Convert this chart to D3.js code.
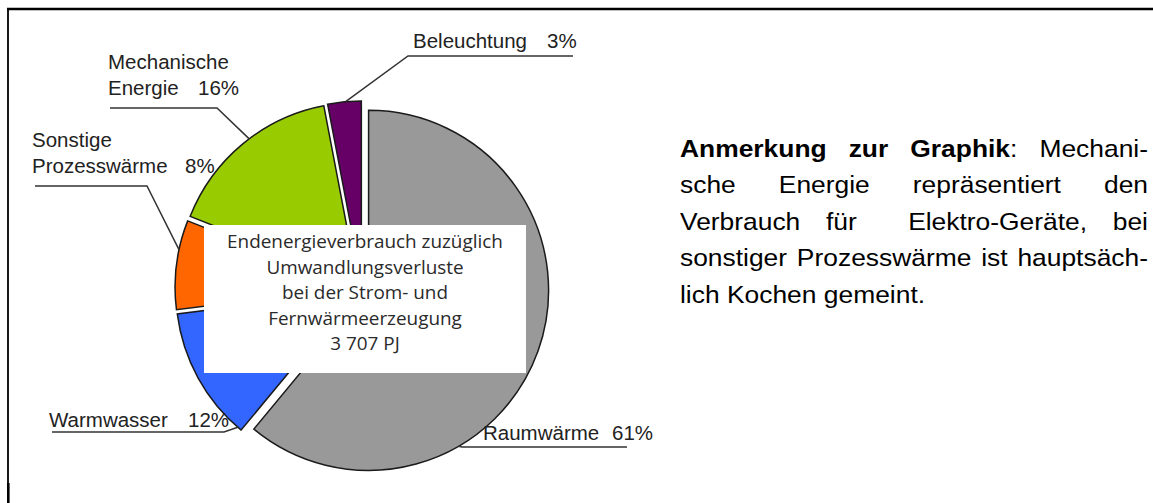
<!DOCTYPE html>
<html>
<head>
<meta charset="utf-8">
<script src="https://cdn.jsdelivr.net/npm/d3@7"></script>
<style>
  body { margin: 0; background: #fff; }
  svg { display: block; }
</style>
</head>
<body>
<svg id="chart" width="1153" height="503"></svg>
<script>
// data
const categories = ['Raumwärme', 'Warmwasser', 'Sonstige Prozesswärme', 'Mechanische Energie', 'Beleuchtung']
const shares = [61, 12, 8, 16, 3]
const sliceColors = ['#999999', '#3366ff', '#ff6600', '#99cc00', '#660066']
const boxLines = ['Endenergieverbrauch zuzüglich', 'Umwandlungsverluste', 'bei der Strom- und', 'Fernwärmeerzeugung', '3 707 PJ']
const noteLines = [
  'Anmerkung zur Graphik: Mechani-',
  'sche Energie repräsentiert den',
  'Verbrauch für  Elektro-Geräte, bei',
  'sonstiger Prozesswärme ist hauptsäch-',
  'lich Kochen gemeint.'
]
const noteBold = ['Anmerkung', 'zur', 'Graphik']

// label placement (layout only)
const labelLayout = [
  { x: 483, y: 440, pctX: 612, split: false, angle: 150, pts: [[462, 447], [627, 447]] },
  { x: 49, y: 427, pctX: 188, split: false, angle: 221, pts: [[224, 432], [52, 432]] },
  { x: 32, y: 147, pctX: 185, split: true, angle: 282, pts: [[147, 186], [35, 186]] },
  { x: 108, y: 69, pctX: 198, split: true, angle: 323, pts: [[217, 108], [110, 108]] },
  { x: 413, y: 48, pctX: 547, split: false, angle: 355, pts: [[408, 56], [573, 56]] }
]

const svg = d3.select('#chart')
const cx = 362
const cy = 288
const r = 180
const explode = 7

/** Draw the frame lines */
function drawFrame () {
  svg.append('line').attr('x1', 7).attr('x2', 1153).attr('y1', 9).attr('y2', 9)
    .attr('stroke', '#000').attr('stroke-width', 2.5)
  svg.append('line').attr('x1', 8).attr('x2', 8).attr('y1', 8).attr('y2', 483)
    .attr('stroke', '#000').attr('stroke-width', 1.8)
  svg.append('line').attr('x1', 8.3).attr('x2', 8.3).attr('y1', 483).attr('y2', 503)
    .attr('stroke', '#000').attr('stroke-width', 2.6)
}

/** offset of an exploded slice */
function sliceOffset (d) {
  const mid = (d.startAngle + d.endAngle) / 2
  return [explode * Math.sin(mid), -explode * Math.cos(mid)]
}

function drawPie () {
  const pie = d3.pie().sort(null).value(v => v)
  const arcs = pie(shares)
  const arc = d3.arc().innerRadius(0).outerRadius(r)
  const g = svg.append('g').attr('transform', `translate(${cx},${cy})`)
  g.selectAll('path.slice')
    .data(arcs)
    .enter().append('path').classed('slice', true)
    .attr('d', arc)
    .attr('transform', d => `translate(${sliceOffset(d)})`)
    .attr('fill', (d, i) => sliceColors[i])
    .attr('stroke', '#1a1a1a')
    .attr('stroke-width', 1.5)
    .attr('stroke-linejoin', 'miter')
  return arcs
}

function drawLabels (arcs) {
  const font = '"Liberation Sans", Arial, sans-serif'
  labelLayout.forEach((lay, i) => {
    const d = arcs[i]
    const [ox, oy] = sliceOffset(d)
    const a = lay.angle * Math.PI / 180
    const start = [cx + ox + r * Math.sin(a), cy + oy - r * Math.cos(a)]
    const line = d3.line()
    svg.append('path')
      .attr('d', line([start, ...lay.pts]))
      .attr('fill', 'none').attr('stroke', '#333').attr('stroke-width', 1.5)

    const words = categories[i].split(' ')
    const lines = lay.split ? words : [categories[i]]
    lines.forEach((t, k) => {
      svg.append('text').attr('x', lay.x).attr('y', lay.y + k * 26)
        .attr('font-family', font).attr('font-size', 20.5).attr('fill', '#222')
        .text(t)
    })
    svg.append('text').attr('x', lay.pctX).attr('y', lay.y + (lines.length - 1) * 26)
      .attr('font-family', font).attr('font-size', 20.5).attr('fill', '#222')
      .text(shares[i] + '%')
  })
}

function drawBox () {
  svg.append('rect').attr('x', 204).attr('y', 225).attr('width', 322).attr('height', 148)
    .attr('fill', '#fff')
  svg.selectAll('text.box')
    .data(boxLines)
    .enter().append('text').classed('box', true)
    .attr('x', 365)
    .attr('y', (t, i) => 248 + i * 25.5)
    .attr('text-anchor', 'middle')
    .attr('font-family', '"Open Sans", "Noto Sans", sans-serif')
    .attr('font-size', 18.9)
    .attr('fill', '#2a2a2a')
    .text(t => t)
}

/** Justified note text on the right */
function drawNote () {
  const sx = 1.1
  const width = (1148 - 680) / sx
  const g = svg.append('g').attr('transform', `translate(680,0) scale(${sx},1)`)
  noteLines.forEach((ln, li) => {
    const y = 157 + li * 36.5
    const words = ln.split(' ')
    const nodes = words.map(w => {
      const t = g.append('text').attr('y', y)
        .attr('font-family', '"Liberation Sans", Arial, sans-serif')
        .attr('font-size', 24).attr('fill', '#000')
      const bare = w.replace(':', '')
      if (li === 0 && noteBold.includes(bare)) {
        t.append('tspan').attr('font-weight', 'bold').text(bare)
        if (w.endsWith(':')) t.append('tspan').text(':')
      } else {
        t.text(w)
      }
      return t
    })
    const widths = nodes.map(t => t.node().getComputedTextLength())
    const total = d3.sum(widths)
    const gaps = words.length - 1
    const last = li === noteLines.length - 1
    const space = last ? 6.7 : (width - total) / gaps
    let x = 0
    nodes.forEach((t, k) => {
      t.attr('x', x)
      x += widths[k] + space
    })
  })
}

drawFrame()
const arcs = drawPie()
drawLabels(arcs)
drawBox()
drawNote()
</script>
</body>
</html>
